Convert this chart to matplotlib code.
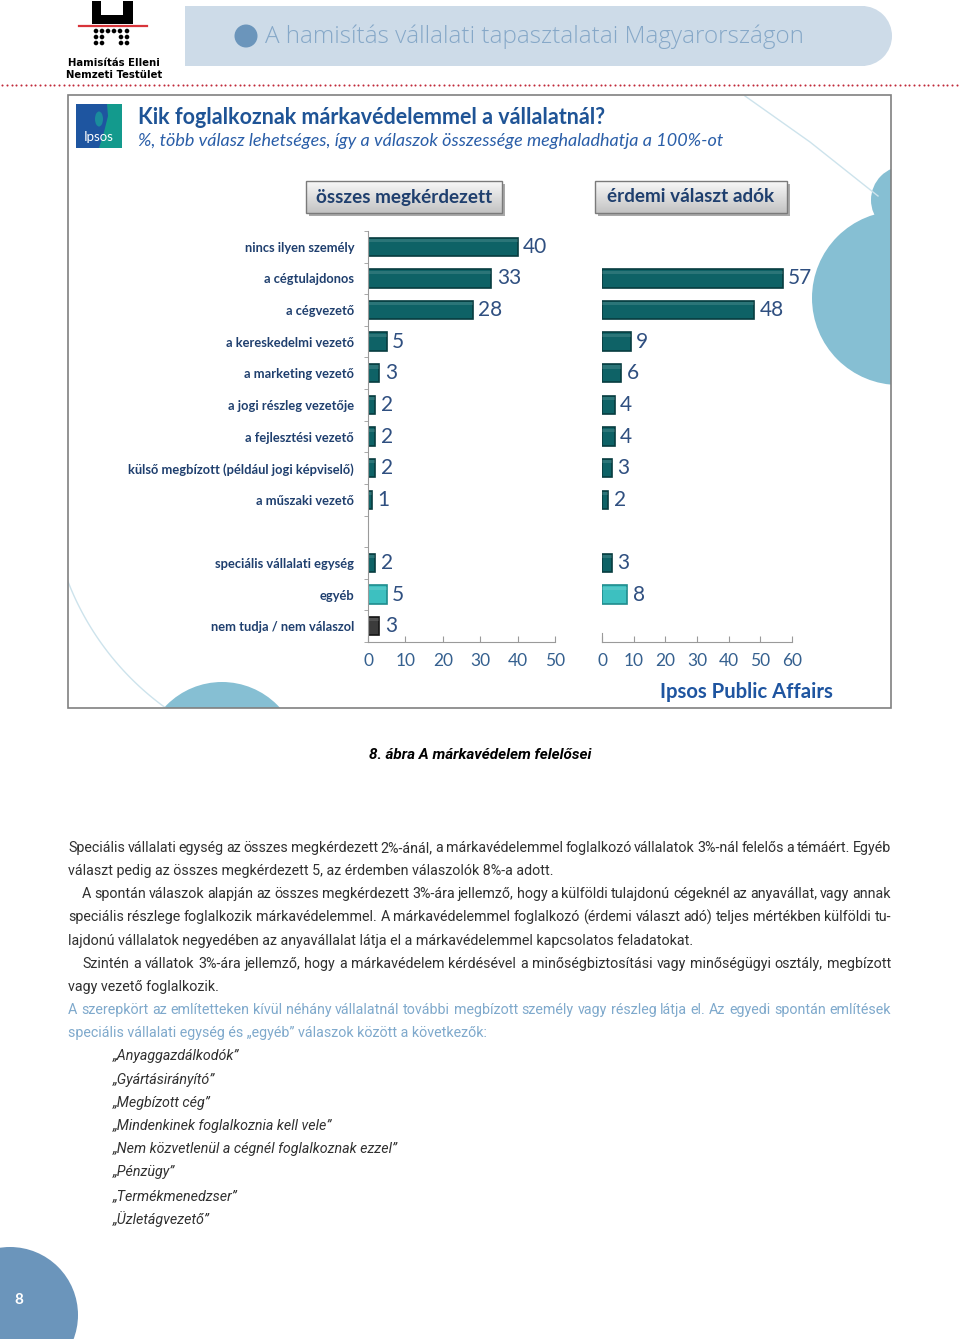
import numpy as np
import matplotlib
matplotlib.use('Agg')
import matplotlib.pyplot as plt
from matplotlib import patches, font_manager
from matplotlib.colors import LinearSegmentedColormap

# --- adatok ---
kategoriak = ['nincs ilyen személy', 'a cégtulajdonos', 'a cégvezető', 'a kereskedelmi vezető',
              'a marketing vezető', 'a jogi részleg vezetője', 'a fejlesztési vezető',
              'külső megbízott (például jogi képviselő)', 'a műszaki vezető',
              'speciális vállalati egység', 'egyéb', 'nem tudja / nem válaszol']
osszes = [40, 33, 28, 5, 3, 2, 2, 2, 1, 2, 5, 3]
erdemi = [None, 57, 48, 9, 6, 4, 4, 3, 2, 3, 8, None]
tick_bal = [0, 10, 20, 30, 40, 50]
tick_jobb = [0, 10, 20, 30, 40, 50, 60]

fejlec = 'A hamisítás vállalati tapasztalatai Magyarországon'
cim = 'Kik foglalkoznak márkavédelemmel a vállalatnál?'
alcim = '%, több válasz lehetséges, így a válaszok összessége meghaladhatja a 100%-ot'
gomb_bal = 'összes megkérdezett'
gomb_jobb = 'érdemi választ adók'
abra_cim = '8. ábra A márkavédelem felelősei'

# (szöveg, behúzás, sorkizárt, kék)
bekezdes = [
    ('Speciális vállalati egység az összes megkérdezett 2%-ánál, a márkavédelemmel foglalkozó vállalatok 3%-nál felelős a témáért. Egyéb', False, True, False),
    ('választ pedig az összes megkérdezett 5, az érdemben válaszolók 8%-a adott.', False, False, False),
    ('A spontán válaszok alapján az összes megkérdezett 3%-ára jellemző, hogy a külföldi tulajdonú cégeknél az anyavállat, vagy annak', True, True, False),
    ('speciális részlege foglalkozik márkavédelemmel. A márkavédelemmel foglalkozó (érdemi választ adó) teljes mértékben külföldi tu-', False, True, False),
    ('lajdonú vállalatok negyedében az anyavállalat látja el a márkavédelemmel kapcsolatos feladatokat.', False, False, False),
    ('Szintén a vállatok 3%-ára jellemző, hogy a márkavédelem kérdésével a minőségbiztosítási vagy minőségügyi osztály, megbízott', True, True, False),
    ('vagy vezető foglalkozik.', False, False, False),
    ('A szerepkört az említetteken kívül néhány vállalatnál további megbízott személy vagy részleg látja el. Az egyedi spontán említések', False, True, True),
    ('speciális vállalati egység és „egyéb” válaszok között a következők:', False, False, True),
]
emlitesek = ['„Anyaggazdálkodók”', '„Gyártásirányító”', '„Megbízott cég”',
             '„Mindenkinek foglalkoznia kell vele”', '„Nem közvetlenül a cégnél foglalkoznak ezzel”',
             '„Pénzügy”', '„Termékmenedzser”', '„Üzletágvezető”']

# --- betűk ---
nevek = {f.name for f in font_manager.fontManager.ttflist}
szoveg_font = 'Liberation Sans Narrow' if 'Liberation Sans Narrow' in nevek else 'Roboto'
plt.rcParams['font.family'] = ['Lato', 'DejaVu Sans']

W, H = 960, 1339
fig = plt.figure(figsize=(W / 100, H / 100), dpi=100)
bg = fig.add_axes([0, 0, 1, 1])
bg.set_xlim(0, W)
bg.set_ylim(H, 0)
bg.axis('off')

# --- fejléc ---
bg.add_patch(patches.Rectangle((185, 6), 680, 60, color='#cddbe8', lw=0))
bg.add_patch(patches.Circle((862, 36), 30, color='#cddbe8', lw=0))
bg.add_patch(patches.Circle((246, 36), 11.5, color='#6b95bb', lw=0))
bg.text(265, 37, fejlec, fontsize=17.5, color='#86a8c8', va='center', family='Open Sans', fontweight='light')

# logó
bg.add_patch(patches.Rectangle((92, 1), 41, 23, color='black', lw=0))
bg.add_patch(patches.Rectangle((101, 0), 22, 15, color='white', lw=0))
bg.plot([79, 147], [26, 26], color='#d8343a', lw=1.6)
for yy, xs in [(31, [96, 102, 108, 114, 120, 127]), (37, [96, 102, 121, 127]), (43, [96, 102, 121, 127])]:
    for xx in xs:
        bg.add_patch(patches.Circle((xx, yy), 2.3, color='black', lw=0))
bg.text(114, 63, 'Hamisítás Elleni', fontsize=7.3, fontweight='bold', family='DejaVu Sans', ha='center', va='center')
bg.text(114, 75, 'Nemzeti Testület', fontsize=7.3, fontweight='bold', family='DejaVu Sans', ha='center', va='center')
pontok = np.arange(2, W, 4.75)
bg.scatter(pontok, np.full(len(pontok), 85), s=2.2, color='#c02a3a', lw=0)

# --- diagram keret ---
keret = patches.Rectangle((68, 95), 823, 613, fill=False, edgecolor='#808080', lw=1.2, zorder=5)
bg.add_patch(keret)
clip = patches.Rectangle((68, 95), 823, 613, transform=bg.transData)
for d in [patches.Circle((899, 298), 87, color='#86bfd3', lw=0),
          patches.Circle((905, 200), 34, color='#86bfd3', lw=0),
          patches.Circle((222, 760), 78, color='#86bfd3', lw=0)]:
    bg.add_patch(d)
    d.set_clip_path(clip)
szog = np.radians(np.linspace(115, 172, 80))
ln, = bg.plot(330 + 281 * np.cos(szog), 480 + 281 * np.sin(szog), color='#cde3ec', lw=1)
ln.set_clip_path(clip)
bg.plot([745, 810, 878], [96, 142, 196], color='#cde3ec', lw=1)

# Ipsos logó
bg.add_patch(patches.Rectangle((76, 104), 46, 44, color='#1e55a0', lw=0))
bg.add_patch(patches.Polygon([(107, 104), (122, 104), (122, 148), (99, 148), (104, 132), (108, 116)],
                             color='#139a8d', lw=0))
bg.add_patch(patches.Ellipse((99, 119), 8, 15, color='#1a8c9c', lw=0))
bg.text(99, 137, 'Ipsos', color='white', fontsize=9.5, ha='center', va='center')

bg.text(138, 118, cim, fontsize=15.5, fontweight='bold', color='#1f5496', va='center')
bg.text(138, 141, alcim, fontsize=13, style='italic', color='#2a5ea8', va='center')

# gombok
szurke = LinearSegmentedColormap.from_list('g', ['#f8f8f8', '#c3c3c3'])
for x0, x1, felirat in [(306, 502, gomb_bal), (595, 787, gomb_jobb)]:
    bg.add_patch(patches.Rectangle((x0 + 3, 184), x1 - x0, 32, color='#a9a9a9', lw=0))
    bg.imshow(np.linspace(0, 1, 50).reshape(-1, 1), extent=[x0, x1, 213, 181],
              cmap=szurke, aspect='auto', zorder=2)
    bg.add_patch(patches.Rectangle((x0, 181), x1 - x0, 32, fill=False, edgecolor='#7a7a7a', lw=1, zorder=3))
    bg.text((x0 + x1) / 2, 197, felirat, fontsize=13.6, fontweight='bold', color='#1f3f6e',
            ha='center', va='center', zorder=4)
bg.set_xlim(0, W)
bg.set_ylim(H, 0)

bg.text(833, 692, 'Ipsos Public Affairs', fontsize=14.6, fontweight='bold', color='#1f55a0',
        ha='right', va='center')

# --- oszlopok ---
sor = [i if i < 9 else i + 1 for i in range(len(kategoriak))]
szinek = ['#0e6266'] * 10 + ['#3dc0c0', '#3b3b3b']
szelek = ['#073c3f'] * 10 + ['#1f8c8d', '#151515']


def px_axes(x0, x1, y0, y1):
    return fig.add_axes([x0 / W, 1 - y1 / H, (x1 - x0) / W, (y1 - y0) / H])


axb = px_axes(368, 555, 231, 642)
axj = px_axes(602, 792, 231, 642)
for ax, ertek, ticks in [(axb, osszes, tick_bal), (axj, erdemi, tick_jobb)]:
    ax.patch.set_alpha(0)
    for s, v, c, e in zip(sor, ertek, szinek, szelek):
        if v is None:
            continue
        ax.barh(s, v, height=0.58, color=c, edgecolor=e, lw=1.2)
        ax.barh(s - 0.2, v, height=0.1, color='white', alpha=0.12, lw=0)
        ax.annotate(str(v), (v, s), xytext=(4, 0), textcoords='offset points', va='center',
                    ha='left', fontsize=15, color='#2f4f80')
    ax.set_xlim(0, ticks[-1])
    ax.set_ylim(12.5, -0.5)
    ax.set_xticks(ticks)
    ax.tick_params(axis='x', direction='in', length=4, color='#9a9a9a', labelsize=12.5,
                   labelcolor='#35608f', pad=8)
    for sp in ['top', 'right']:
        ax.spines[sp].set_visible(False)
    ax.spines['bottom'].set_color('#9a9a9a')
    ax.spines['left'].set_color('#9a9a9a')

axb.set_yticks(sor)
axb.set_yticklabels(kategoriak, fontsize=9.3, fontweight='bold', color='#1f3f6e')
axb.tick_params(axis='y', length=0, pad=10)
axb.set_yticks([s + 0.5 for s in range(-1, 13)], minor=True)
axb.tick_params(axis='y', which='minor', length=3, color='#9a9a9a', direction='out')
axj.set_yticks([])
axj.spines['left'].set_bounds(12.5, 12.2)

bg.text(480, 755, abra_cim, fontsize=11, fontweight='bold', style='italic', ha='center',
        va='center', family=szoveg_font)

# --- szövegtörzs ---
renderer = fig.canvas.get_renderer()
meret = 10.3
y = 848
for txt, behuz, kizart, kek in bekezdes:
    x0 = 82 if behuz else 68
    szin = '#7fa9cc' if kek else '#303030'
    kw = dict(fontsize=meret, color=szin, va='center', family=szoveg_font)
    if not kizart:
        bg.text(x0, y, txt, **kw)
    else:
        szavak = txt.split()
        tt = [bg.text(0, y, sz, **kw) for sz in szavak]
        sz_w = [t.get_window_extent(renderer).width for t in tt]
        res = (891 - x0 - sum(sz_w)) / (len(szavak) - 1)
        xx = x0
        for t, w in zip(tt, sz_w):
            t.set_x(xx)
            xx += w + res
    y += 23.15
for e in emlitesek:
    bg.text(113, y, e, fontsize=meret, style='italic', color='#303030', va='center',
            family=szoveg_font)
    y += 23.2

# oldalszám
bg.add_patch(patches.Circle((10, 1315), 68, color='#6b95bb', lw=0))
bg.text(19, 1300, '8', color='white', fontsize=11, fontweight='bold', ha='center', va='center')

fig.savefig('out.png', dpi=100)
